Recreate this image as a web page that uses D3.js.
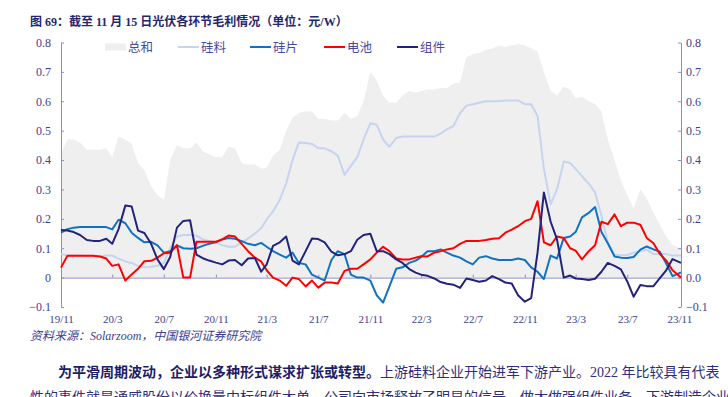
<!DOCTYPE html>
<html lang="zh">
<head>
<meta charset="utf-8">
<title>光伏各环节毛利</title>
<script src="https://cdn.jsdelivr.net/npm/d3@7"></script>
<style>
  body { margin: 0; background: #fff; }
  .num { font-family: "Liberation Serif", "Noto Sans CJK SC", serif; }
  .cjk { font-family: "Liberation Serif", "Noto Sans CJK SC", sans-serif; }
</style>
</head>
<body>
<script>
// semi-monthly readings, 2019/11 - 2023/11
var dates = [
  "2019-11-01","2019-11-16","2019-12-01","2019-12-16",
  "2020-01-01","2020-01-16","2020-02-01","2020-02-16","2020-03-01","2020-03-16","2020-04-01","2020-04-16",
  "2020-05-01","2020-05-16","2020-06-01","2020-06-16","2020-07-01","2020-07-16","2020-08-01","2020-08-16",
  "2020-09-01","2020-09-16","2020-10-01","2020-10-16","2020-11-01","2020-11-16","2020-12-01","2020-12-16",
  "2021-01-01","2021-01-16","2021-02-01","2021-02-16","2021-03-01","2021-03-16","2021-04-01","2021-04-16",
  "2021-05-01","2021-05-16","2021-06-01","2021-06-16","2021-07-01","2021-07-16","2021-08-01","2021-08-16",
  "2021-09-01","2021-09-16","2021-10-01","2021-10-16","2021-11-01","2021-11-16","2021-12-01","2021-12-16",
  "2022-01-01","2022-01-16","2022-02-01","2022-02-16","2022-03-01","2022-03-16","2022-04-01","2022-04-16",
  "2022-05-01","2022-05-16","2022-06-01","2022-06-16","2022-07-01","2022-07-16","2022-08-01","2022-08-16",
  "2022-09-01","2022-09-16","2022-10-01","2022-10-16","2022-11-01","2022-11-16","2022-12-01","2022-12-16",
  "2023-01-01","2023-01-16","2023-02-01","2023-02-16","2023-03-01","2023-03-16","2023-04-01","2023-04-16",
  "2023-05-01","2023-05-16","2023-06-01","2023-06-16","2023-07-01","2023-07-16","2023-08-01","2023-08-16",
  "2023-09-01","2023-09-16","2023-10-01","2023-10-16","2023-11-05"
];

var total = [0.42,0.47,0.47,0.46,0.435,0.435,0.435,0.44,0.41,0.48,
  0.47,0.455,0.39,0.365,0.31,0.28,0.265,0.40,0.45,0.44,
  0.44,0.46,0.43,0.42,0.41,0.41,0.445,0.44,0.39,0.385,
  0.385,0.37,0.375,0.415,0.435,0.50,0.545,0.56,0.565,0.565,
  0.54,0.54,0.535,0.535,0.56,0.54,0.55,0.60,0.70,0.67,
  0.62,0.595,0.595,0.62,0.635,0.63,0.635,0.64,0.64,0.645,
  0.645,0.66,0.665,0.75,0.76,0.765,0.775,0.78,0.79,0.785,
  0.79,0.795,0.79,0.78,0.77,0.70,0.635,0.62,0.65,0.64,
  0.61,0.615,0.60,0.59,0.565,0.47,0.40,0.33,0.28,0.235,
  0.30,0.27,0.22,0.18,0.14,0.11,0.10];

var silicon = [0.08,0.075,0.075,0.075,0.073,0.073,0.073,0.075,0.075,0.065,
  0.055,0.05,0.04,0.035,0.037,0.04,0.05,0.10,0.14,0.145,
  0.145,0.143,0.13,0.125,0.12,0.11,0.105,0.105,0.12,0.133,
  0.15,0.168,0.198,0.225,0.265,0.32,0.40,0.46,0.458,0.455,
  0.44,0.44,0.43,0.415,0.35,0.38,0.41,0.47,0.525,0.52,
  0.47,0.445,0.475,0.48,0.48,0.48,0.48,0.48,0.48,0.49,
  0.505,0.515,0.56,0.585,0.59,0.595,0.60,0.60,0.60,0.603,
  0.603,0.603,0.59,0.59,0.55,0.37,0.25,0.30,0.395,0.39,
  0.37,0.345,0.32,0.29,0.21,0.12,0.078,0.075,0.077,0.085,
  0.09,0.095,0.08,0.08,0.08,0.075,0.075];

var wafer = [0.153,0.165,0.17,0.172,0.172,0.172,0.172,0.172,0.164,0.197,
  0.185,0.153,0.135,0.12,0.122,0.11,0.085,0.09,0.11,0.10,
  0.098,0.10,0.108,0.115,0.12,0.13,0.135,0.132,0.124,0.115,
  0.11,0.118,0.105,0.09,0.078,0.068,0.085,0.05,0.045,0.01,
  0.0,-0.01,0.06,0.09,0.08,0.01,0.0,0.0,-0.01,-0.06,
  -0.085,-0.03,0.03,0.035,0.05,0.058,0.07,0.09,0.09,0.096,
  0.085,0.075,0.068,0.055,0.045,0.068,0.073,0.065,0.06,0.06,
  0.06,0.065,0.06,0.035,0.02,-0.005,0.075,0.065,0.135,0.14,
  0.155,0.205,0.22,0.24,0.155,0.117,0.072,0.068,0.067,0.07,
  0.095,0.106,0.096,0.088,0.048,0.005,0.018];

var cell = [0.034,0.074,0.074,0.074,0.074,0.074,0.072,0.065,0.04,0.045,
  -0.01,0.011,0.03,0.056,0.057,0.068,0.083,0.085,0.11,0.0,
  0.0,0.122,0.122,0.122,0.122,0.13,0.143,0.14,0.115,0.09,
  0.068,0.055,0.025,0.0,-0.01,-0.028,0.0,-0.005,-0.03,-0.01,
  -0.034,-0.017,-0.017,-0.02,0.023,0.03,0.03,0.045,0.062,0.085,
  0.105,0.09,0.065,0.062,0.062,0.068,0.073,0.072,0.085,0.09,
  0.096,0.1,0.115,0.125,0.125,0.125,0.128,0.132,0.134,0.153,
  0.163,0.175,0.192,0.2,0.26,0.12,0.11,0.14,0.135,0.1,
  0.092,0.062,0.09,0.11,0.19,0.182,0.215,0.175,0.187,0.187,
  0.18,0.135,0.117,0.08,0.058,0.025,0.0];

var module_ = [0.162,0.16,0.155,0.145,0.128,0.125,0.125,0.132,0.115,0.165,
  0.245,0.242,0.16,0.152,0.115,0.062,0.029,0.07,0.17,0.193,
  0.195,0.078,0.066,0.058,0.051,0.045,0.058,0.06,0.042,0.065,
  0.067,0.02,0.045,0.108,0.12,0.14,0.058,0.045,0.09,0.133,
  0.131,0.12,0.088,0.076,0.08,0.09,0.129,0.145,0.149,0.09,
  0.09,0.08,0.062,0.05,0.029,0.017,0.01,0.006,-0.003,-0.015,
  -0.021,-0.024,-0.035,-0.003,-0.008,-0.014,-0.01,0.005,-0.005,-0.017,
  -0.02,-0.06,-0.082,-0.07,0.085,0.29,0.19,0.13,0.0,0.007,
  -0.003,-0.005,-0.008,-0.004,0.02,0.05,0.04,0.028,-0.013,-0.065,
  -0.025,-0.029,-0.029,-0.002,0.025,0.063,0.05];

var seriesNames = ["总和", "硅料", "硅片", "电池", "组件"];
var xTickLabels = ["19/11","20/3","20/7","20/11","21/3","21/7","21/11","22/3","22/7","22/11","23/3","23/7","23/11"];
var yTicks = [-0.1, 0, 0.1, 0.2, 0.3, 0.4, 0.5, 0.6, 0.7, 0.8];

var W = 728, H = 397;
var plot = {left: 61, right: 681, top: 42.5, bottom: 307};
var colors = {"总和": "#efefef", "硅料": "#c6d4ef", "硅片": "#1173c0", "电池": "#ff0000", "组件": "#23237c"};
var axisColor = "#8c8cc6", labelColor = "#3e3e8e";

var parseDate = d3.timeParse("%Y-%m-%d");
var parseTick = d3.timeParse("%y/%m");
var days = dates.map(parseDate);

var x = d3.scaleTime()
  .domain([parseDate("2019-11-01"), parseDate("2023-11-05")])
  .range([plot.left, plot.right]);
var y = d3.scaleLinear().domain([-0.1, 0.8]).range([plot.bottom, plot.top]);

var svg = d3.select("body").append("svg").attr("width", W).attr("height", H);

// title
svg.append("text")
  .attr("class", "cjk")
  .attr("x", 30).attr("y", 26)
  .attr("font-size", 12).attr("font-weight", "bold")
  .attr("fill", "#26266f")
  .text("图 69：截至 11 月 15 日光伏各环节毛利情况（单位：元/W）");

// total area
var area = d3.area()
  .x(function(d, i) { return x(days[i]); })
  .y0(y(0))
  .y1(function(d) { return y(d); });
svg.append("path")
  .attr("d", area(total))
  .attr("fill", colors["总和"]);

// axes
var fmtLeft = function(d) { return d === 0 ? "0" : d3.format(".1f")(d); };
var gl = svg.append("g")
  .attr("transform", "translate(" + plot.left + ",0)")
  .call(d3.axisLeft(y).tickValues(yTicks).tickSizeInner(-3).tickSizeOuter(0).tickPadding(10).tickFormat(fmtLeft));
var gr = svg.append("g")
  .attr("transform", "translate(" + plot.right + ",0)")
  .call(d3.axisRight(y).tickValues(yTicks).tickSizeInner(-3).tickSizeOuter(0).tickPadding(5).tickFormat(d3.format(".1f")));
var gx = svg.append("g")
  .attr("transform", "translate(0," + y(0) + ")")
  .call(d3.axisBottom(x).tickValues(xTickLabels.map(parseTick)).tickSizeInner(-3).tickSizeOuter(0)
    .tickFormat(function(d, i) { return xTickLabels[i]; }));
gx.selectAll("text").attr("y", y(-0.1) - y(0) + 8).attr("dy", "0.71em").attr("font-size", 11);

[gl, gr, gx].forEach(function(g) {
  g.select(".domain").attr("stroke", axisColor);
  g.selectAll(".tick line").attr("stroke", axisColor);
  g.selectAll("text").attr("class", "num").attr("fill", labelColor);
});
gl.selectAll("text").attr("font-size", 12);
gr.selectAll("text").attr("font-size", 12);

// lines
var line = d3.line()
  .x(function(d, i) { return x(days[i]); })
  .y(function(d) { return y(d); });
var lineSeries = [["硅料", silicon], ["硅片", wafer], ["电池", cell], ["组件", module_]];
svg.selectAll(".series")
  .data(lineSeries)
  .enter().append("path")
  .attr("class", "series")
  .attr("d", function(d) { return line(d[1]); })
  .attr("fill", "none")
  .attr("stroke", function(d) { return colors[d[0]]; })
  .attr("stroke-width", 2)
  .attr("stroke-linejoin", "round");

// legend
var legendX = [105, 178, 250, 324, 397];
var lg = svg.selectAll(".legend")
  .data(seriesNames)
  .enter().append("g")
  .attr("class", "legend")
  .attr("transform", function(d, i) { return "translate(" + legendX[i] + ",47)"; });
lg.append("rect")
  .attr("x", 0).attr("width", 21)
  .attr("y", function(d, i) { return i === 0 ? -3.5 : -1; })
  .attr("height", function(d, i) { return i === 0 ? 7 : 2; })
  .attr("fill", function(d) { return colors[d]; });
lg.append("text")
  .attr("class", "cjk")
  .attr("x", 23).attr("y", 4.5)
  .attr("font-size", 12.5)
  .attr("fill", "#4a4a9c")
  .text(function(d) { return d; });

// source
svg.append("text")
  .attr("class", "cjk")
  .attr("x", 30).attr("y", 340)
  .attr("font-size", 12).attr("font-style", "italic")
  .attr("fill", labelColor)
  .text("资料来源：Solarzoom，中国银河证券研究院");

// body paragraph
var p1 = svg.append("text").attr("class", "cjk").attr("x", 58).attr("y", 377).attr("font-size", 14);
p1.append("tspan").attr("font-weight", "bold").attr("fill", "#1c1c68").text("为平滑周期波动，企业以多种形式谋求扩张或转型。");
p1.append("tspan").attr("fill", "#2e2e7c").text("上游硅料企业开始进军下游产业。2022 年比较具有代表");
svg.append("text").attr("class", "cjk").attr("x", 30).attr("y", 402).attr("font-size", 14)
  .attr("fill", "#2e2e7c")
  .text("性的事件就是通威股份以价换量中标组件大单，公司向市场释放了明显的信号，做大做强组件业务。下游制造企业");
</script>
</body>
</html>
